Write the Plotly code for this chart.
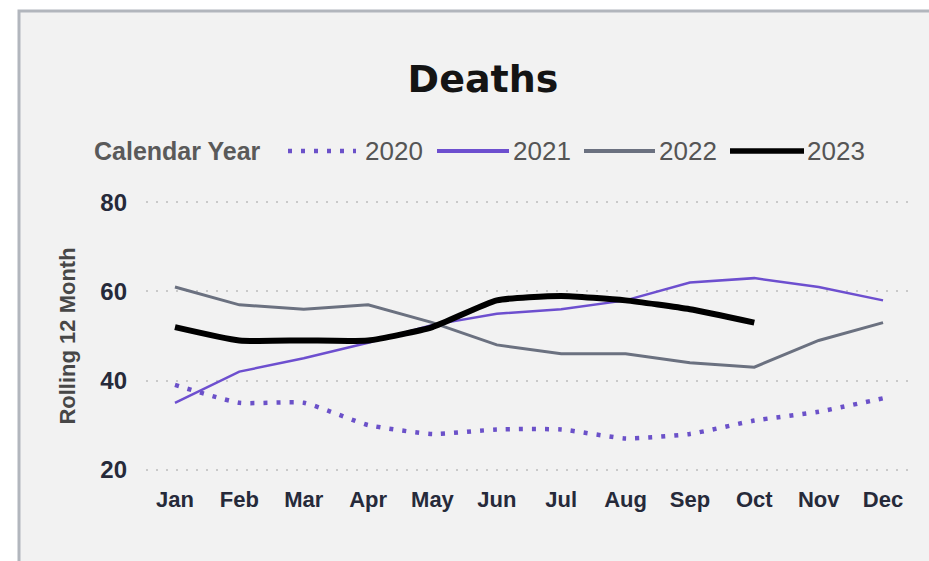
import plotly.graph_objects as go

# ---- data -------------------------------------------------------------
months = ["Jan", "Feb", "Mar", "Apr", "May", "Jun",
          "Jul", "Aug", "Sep", "Oct", "Nov", "Dec"]
deaths_2020 = [39, 35, 35, 30, 28, 29, 29, 27, 28, 31, 33, 36]
deaths_2021 = [35, 42, 45, 48.5, 52.5, 55, 56, 58, 62, 63, 61, 58]
deaths_2022 = [61, 57, 56, 57, 53, 48, 46, 46, 44, 43, 49, 53]
deaths_2023 = [52, 49, 49, 49, 52, 58, 59, 58, 56, 53]
y_ticks = [20, 40, 60, 80]

# ---- page geometry (pixels) ------------------------------------------
W, H = 929, 561
ML, MR, MT, MB = 146, 17, 198, 87
PW, PH = W - ML - MR, H - MT - MB


def px(x):
    return (x - ML) / PW


def py(y):
    return (H - MB - y) / PH


BASE = "Liberation Sans, Arial, sans-serif"

# name, values, chart line style, legend sample width, line shape
series = [
    ("2020", deaths_2020, dict(color="#6b51c9", width=4.5, dash="4px,9px"), 4.5, "spline"),
    ("2021", deaths_2021, dict(color="#6d4fcf", width=2.5), 4, "linear"),
    ("2022", deaths_2022, dict(color="#6b7180", width=3), 4, "linear"),
    ("2023", deaths_2023, dict(color="#000000", width=6), 5.5, "spline"),
]

fig = go.Figure()
for name, vals, line, _lw, shape in series:
    fig.add_trace(go.Scatter(
        x=months[:len(vals)], y=vals, name=name, mode="lines",
        line=dict(shape=shape, smoothing=0.5, **line),
        showlegend=False, hoverinfo="x+y+name",
    ))

# panel background with its frame
shapes = [dict(type="rect", xref="paper", yref="paper",
               x0=px(19), x1=px(945), y0=py(11), y1=py(580),
               fillcolor="#f2f2f2", line=dict(color="#b2b6bd", width=3),
               layer="below")]

# legend row: title, then a line sample and label for each year
annotations = [dict(text="<b>Calendar Year</b>", xref="paper", yref="paper",
                    x=px(92), y=py(151), xanchor="left", yanchor="middle",
                    showarrow=False, font=dict(family=BASE, size=25, color="#5a5a5a"))]
legend_x = [(288, 356, 363), (437, 509, 511), (584, 655, 657), (730, 804, 805)]
for (name, _, line, lw, _s), (lx0, lx1, tx) in zip(series, legend_x):
    sample = dict(line, width=lw)
    shapes.append(dict(type="line", xref="paper", yref="paper",
                       x0=px(lx0), x1=px(lx1), y0=py(151), y1=py(151),
                       line=sample))
    annotations.append(dict(text=name, xref="paper", yref="paper",
                            x=px(tx), y=py(151), xanchor="left", yanchor="middle",
                            showarrow=False,
                            font=dict(family=BASE, size=26, color="#555555")))

fig.update_layout(
    width=W, height=H,
    margin=dict(l=ML, r=MR, t=MT, b=MB),
    paper_bgcolor="#ffffff",
    plot_bgcolor="rgba(0,0,0,0)",
    title=dict(text="<b>Deaths</b>", x=483 / W, xanchor="center",
               y=1 - 79 / H, yanchor="middle",
               font=dict(family="DejaVu Sans, sans-serif", size=38, color="#141414")),
    shapes=shapes,
    annotations=annotations,
    showlegend=False,
    xaxis=dict(
        type="category", categoryarray=months, range=[-0.45, 11.45],
        showgrid=False, zeroline=False, showline=False, ticks="",
        ticklabelstandoff=10,
        tickfont=dict(family=BASE, size=22, color="#262a3a", weight="bold"),
    ),
    yaxis=dict(
        range=[19, 81], tickvals=y_ticks,
        showgrid=True, gridcolor="#c9c9c9", gridwidth=2, griddash="2px,8px",
        zeroline=False, showline=False, ticks="",
        ticklabelstandoff=18,
        tickfont=dict(family=BASE, size=24, color="#262a3a", weight="bold"),
        title=dict(text="Rolling 12 Month", standoff=18,
                   font=dict(family=BASE, size=22, color="#474747", weight="bold")),
    ),
)

fig.write_html("out.html")
